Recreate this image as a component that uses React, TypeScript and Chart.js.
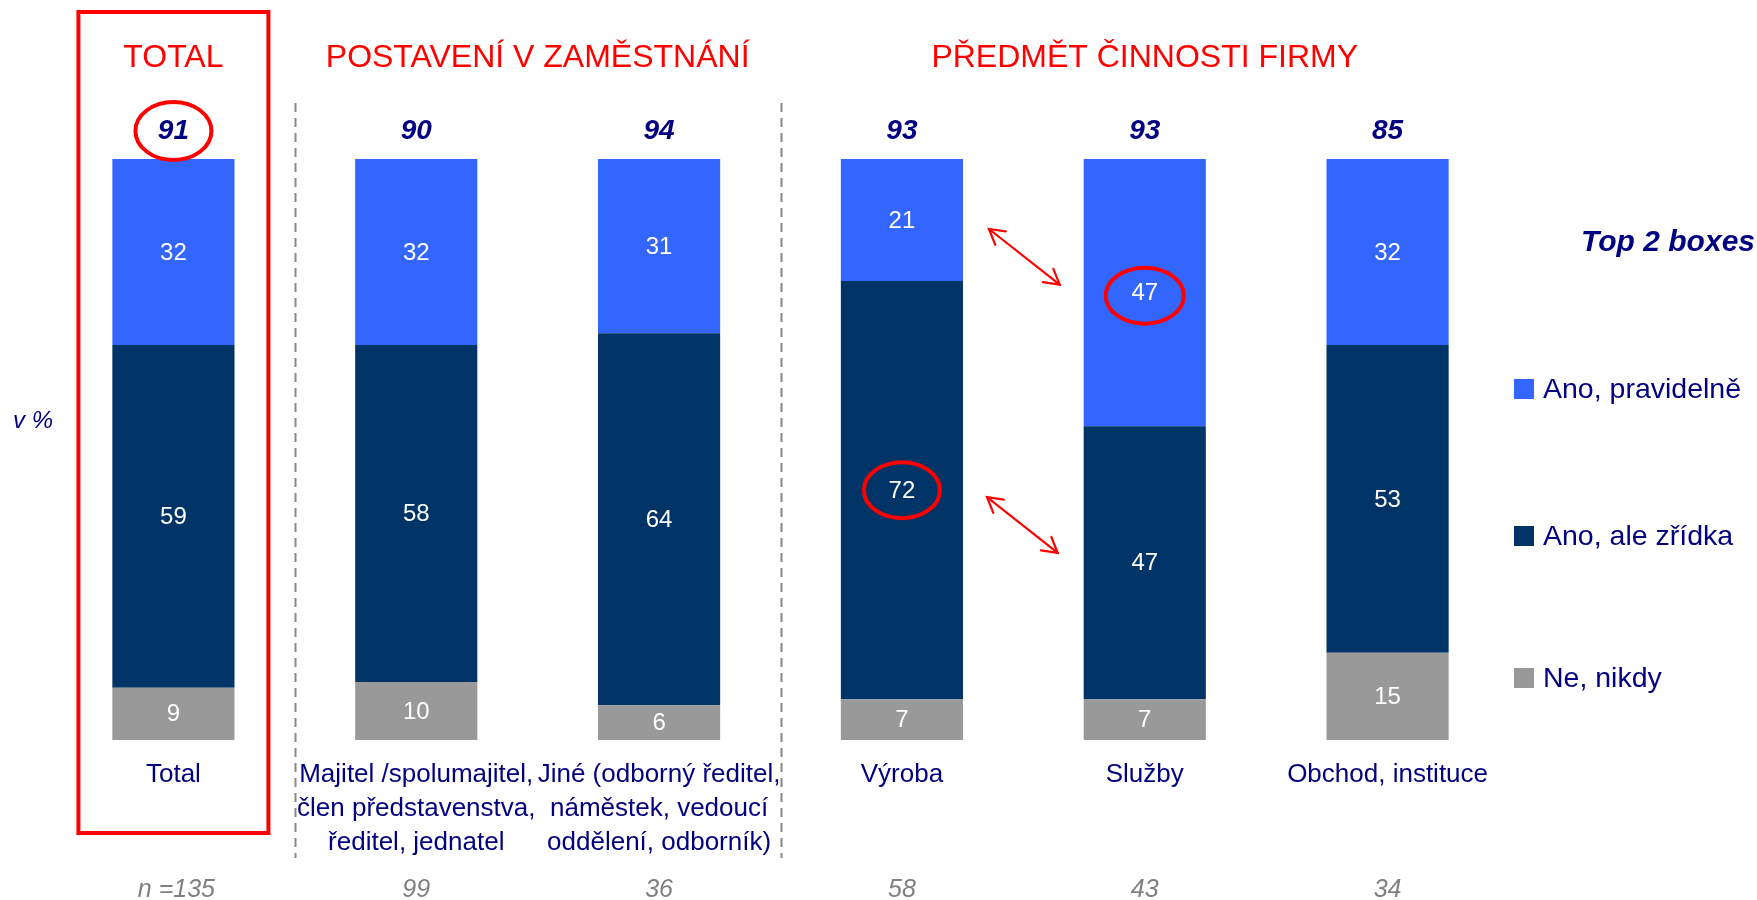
import React, { useEffect, useRef } from "react";
import { Chart, registerables } from "chart.js";

Chart.register(...registerables);

const categories: string[][] = [
  ["Total"],
  ["Majitel /spolumajitel,", "člen představenstva,", "ředitel, jednatel"],
  ["Jiné (odborný ředitel,", "náměstek, vedoucí", "oddělení, odborník)"],
  ["Výroba"],
  ["Služby"],
  ["Obchod, instituce"],
];
const anoPravidelne = [32, 32, 31, 21, 47, 32];
const anoZridka = [59, 58, 64, 72, 47, 53];
const neNikdy = [9, 10, 6, 7, 7, 15];
const top2 = [91, 90, 94, 93, 93, 85];
const nLabels = ["n =135", "99", "36", "58", "43", "34"];
const groupTitles = ["TOTAL", "POSTAVENÍ V ZAMĚSTNÁNÍ", "PŘEDMĚT ČINNOSTI FIRMY"];
const legendLabels = ["Ano, pravidelně", "Ano, ale zřídka", "Ne, nikdy"];

const BLUE = "#3366FF";
const NAVY_BAR = "#003366";
const GRAY = "#999999";
const TEXT_NAVY = "#000080";
const RED = "#FF0000";
const FONT = "'Liberation Sans', Arial, sans-serif";

function arrow(ctx: CanvasRenderingContext2D, x1: number, y1: number, x2: number, y2: number) {
  const ang = Math.atan2(y2 - y1, x2 - x1);
  const arm = 17;
  const spread = Math.PI / 6;
  ctx.strokeStyle = RED;
  ctx.lineWidth = 2.2;
  ctx.lineCap = "round";
  ctx.lineJoin = "miter";
  ctx.beginPath();
  ctx.moveTo(x1, y1);
  ctx.lineTo(x2, y2);
  ctx.stroke();
  const head = (px: number, py: number, a: number) => {
    ctx.beginPath();
    ctx.moveTo(px - Math.cos(a - spread) * arm, py - Math.sin(a - spread) * arm);
    ctx.lineTo(px, py);
    ctx.lineTo(px - Math.cos(a + spread) * arm, py - Math.sin(a + spread) * arm);
    ctx.stroke();
  };
  head(x2, y2, ang);
  head(x1, y1, ang + Math.PI);
  ctx.lineCap = "butt";
}

function ellipse(ctx: CanvasRenderingContext2D, cx: number, cy: number, rx: number, ry: number) {
  ctx.strokeStyle = RED;
  ctx.lineWidth = 4;
  ctx.beginPath();
  ctx.ellipse(cx, cy, rx, ry, 0, 0, Math.PI * 2);
  ctx.stroke();
}

const overlay = {
  id: "overlay",
  afterDatasetsDraw(chart: any) {
    const ctx: CanvasRenderingContext2D = chart.ctx;
    const x = chart.scales.x;
    const area = chart.chartArea;
    const px = (i: number) => x.getPixelForValue(i);
    const metaGray = chart.getDatasetMeta(0);
    const metaDark = chart.getDatasetMeta(1);
    const metaBlue = chart.getDatasetMeta(2);
    const mid = (el: any) => (Math.max(el.y, area.top) + Math.min(el.base, area.bottom)) / 2;
    ctx.save();

    // segment labels
    ctx.textAlign = "center";
    ctx.textBaseline = "middle";
    ctx.fillStyle = "#FFFFFF";
    ctx.font = `24px ${FONT}`;
    [metaGray, metaDark, metaBlue].forEach((meta: any, d: number) => {
      const vals = chart.data.datasets[d].data;
      meta.data.forEach((el: any, i: number) => {
        ctx.fillText(String(vals[i]), el.x, mid(el) + 1);
      });
    });

    // top 2 values
    ctx.fillStyle = TEXT_NAVY;
    ctx.font = `italic bold 28px ${FONT}`;
    top2.forEach((v, i) => {
      ctx.fillText(String(v), px(i), area.top - 28);
    });

    // category labels
    ctx.font = `26px ${FONT}`;
    categories.forEach((lines, i) => {
      lines.forEach((ln, k) => {
        ctx.fillText(ln, px(i), area.bottom + 35 + k * 34);
      });
    });

    // n labels
    ctx.fillStyle = "#808080";
    ctx.font = `italic 25px ${FONT}`;
    nLabels.forEach((t, i) => {
      ctx.fillText(t, px(i) + (i === 0 ? 3 : 0), area.bottom + 150);
    });

    // group titles
    ctx.fillStyle = RED;
    ctx.font = `32px ${FONT}`;
    ctx.fillText(groupTitles[0], px(0), 58);
    ctx.fillText(groupTitles[1], (px(1) + px(2)) / 2, 58);
    ctx.fillText(groupTitles[2], px(4), 58);

    // dashed separators
    ctx.strokeStyle = "#888888";
    ctx.lineWidth = 2;
    ctx.setLineDash([9, 6]);
    [(px(0) + px(1)) / 2, (px(2) + px(3)) / 2].forEach((sx) => {
      ctx.beginPath();
      ctx.moveTo(Math.round(sx) + 0.5, 103);
      ctx.lineTo(Math.round(sx) + 0.5, 858);
      ctx.stroke();
    });
    ctx.setLineDash([]);

    // TOTAL red box
    ctx.strokeStyle = RED;
    ctx.lineWidth = 4;
    ctx.strokeRect(px(0) - 95, 12, 190, 821);

    // ellipses
    ellipse(ctx, px(0), area.top - 28, 38, 29);
    const dark3 = metaDark.data[3];
    ellipse(ctx, dark3.x, mid(dark3), 38, 28);
    const blue4 = metaBlue.data[4];
    ellipse(ctx, blue4.x, mid(blue4) + 3, 39, 28);

    // arrows
    const b3 = metaBlue.data[3];
    const b4 = metaBlue.data[4];
    const d4 = metaDark.data[4];
    const xs = b3.x + b3.width / 2 + 26;
    const xe = b4.x - b4.width / 2 - 24;
    arrow(ctx, xs, mid(b3) + 9, xe, mid(b4) - 8);
    arrow(ctx, xs - 2, mid(dark3) + 7, xe - 2, mid(d4) - 10);

    // v %
    ctx.fillStyle = TEXT_NAVY;
    ctx.font = `italic 24px ${FONT}`;
    ctx.textAlign = "left";
    ctx.fillText("v %", 13, 421);

    // legend
    ctx.font = `italic bold 30px ${FONT}`;
    ctx.textAlign = "right";
    ctx.fillText("Top 2 boxes", 1755, 243);
    ctx.textAlign = "left";
    ctx.font = `28.5px ${FONT}`;
    const legColors = [BLUE, NAVY_BAR, GRAY];
    const legY = [389, 536, 678];
    legendLabels.forEach((t, k) => {
      ctx.fillStyle = legColors[k];
      ctx.fillRect(1514, legY[k] - 10, 20, 20);
      ctx.fillStyle = TEXT_NAVY;
      ctx.fillText(t, 1543, legY[k] + 1);
    });

    ctx.restore();
  },
};

export default function App() {
  const ref = useRef<HTMLCanvasElement>(null);
  useEffect(() => {
    if (!ref.current) return;
    const chart = new Chart(ref.current, {
      type: "bar",
      data: {
        labels: categories.map((c) => c.join(" ")),
        datasets: [
          { label: legendLabels[2], data: neNikdy, backgroundColor: GRAY },
          { label: legendLabels[1], data: anoZridka, backgroundColor: NAVY_BAR },
          { label: legendLabels[0], data: anoPravidelne, backgroundColor: BLUE },
        ],
      },
      options: {
        responsive: false,
        animation: false,
        devicePixelRatio: 1,
        layout: { padding: { left: 52, right: 248, top: 159, bottom: 160 } },
        datasets: { bar: { barPercentage: 0.503, categoryPercentage: 1 } },
        scales: {
          x: { stacked: true, display: false },
          y: { stacked: true, display: false, min: 0, max: 100 },
        },
        plugins: { legend: { display: false }, tooltip: { enabled: false } },
      },
      plugins: [overlay],
    });
    return () => chart.destroy();
  }, []);
  return (
    <div style={{ position: "fixed", left: 0, top: 0, width: 1757, height: 900, background: "#fff" }}>
      <canvas ref={ref} width={1757} height={900} style={{ width: 1757, height: 900 }} />
    </div>
  );
}
